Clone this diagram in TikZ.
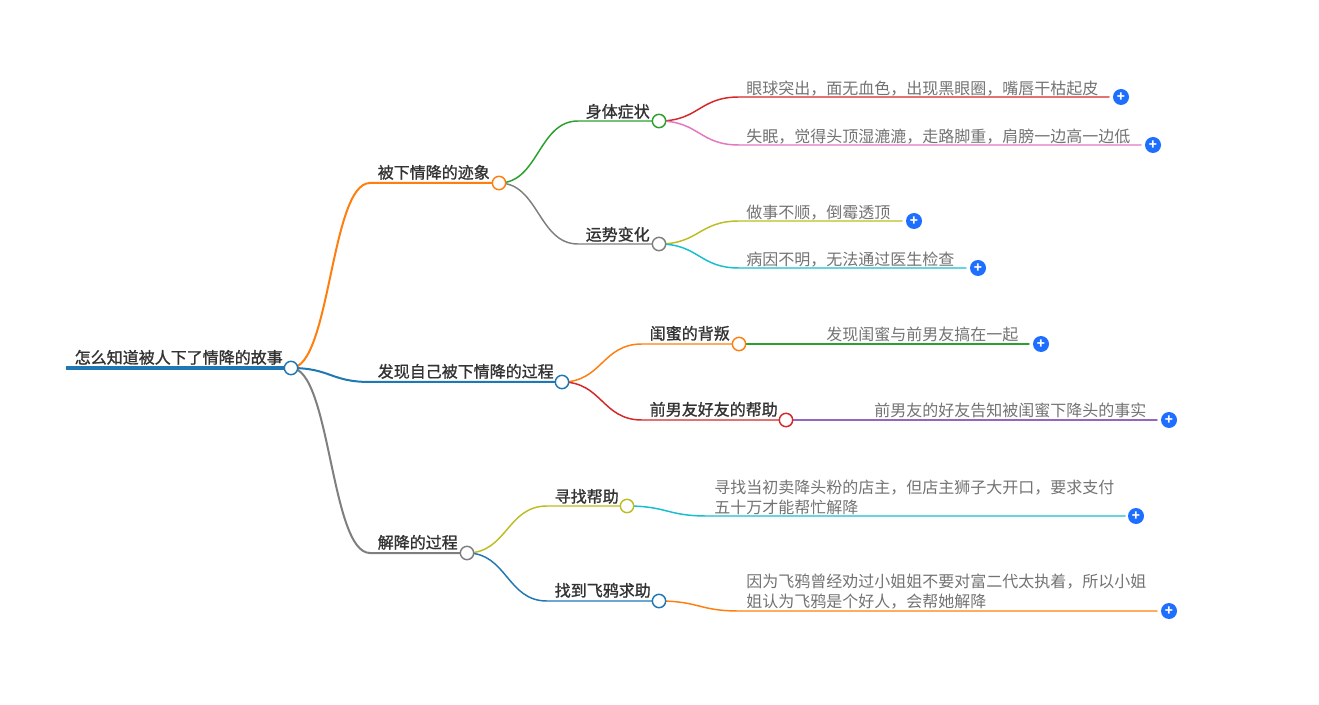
\documentclass[tikz,border=0pt]{standalone}
\usepackage{fontspec}
\setmainfont{Noto Sans CJK SC}
\newfontfamily\topicfont[FakeBold=1.2]{Noto Sans CJK SC}
\usetikzlibrary{calc}
\pgfdeclarelayer{back}
\pgfsetlayers{back,main}
\definecolor{cOrange}{HTML}{FF7F0E}
\definecolor{cBlue}{HTML}{1F77B4}
\definecolor{cGray}{HTML}{7F7F7F}
\definecolor{cGreen}{HTML}{2CA02C}
\definecolor{cRed}{HTML}{D62728}
\definecolor{cPink}{HTML}{E377C2}
\definecolor{cOlive}{HTML}{BCBD22}
\definecolor{cCyan}{HTML}{17BECF}
\definecolor{cPurple}{HTML}{9467BD}
\definecolor{cPlus}{HTML}{1E6EFF}
\tikzset{
  dot/.style={circle,draw=#1,fill=white,line width=1.1pt,minimum size=10pt,inner sep=0pt},
  topic/.style={anchor=west,inner sep=0pt,xshift=-0.4pt,yshift=-0.1pt,text=black!80,font=\fontsize{12}{15}\selectfont\topicfont,text height=10pt,text depth=2pt},
  leaf/.style={anchor=west,inner sep=0pt,xshift=-0.6pt,yshift=-0.4pt,text=black!55,align=left,font=\fontsize{12}{15}\selectfont},
  plusbtn/.style={circle,fill=cPlus,minimum size=12pt,inner sep=0pt,text=white,font=\fontsize{10}{10}\selectfont\bfseries},
  wire/.style={line width=#1,line cap=round},
  wire/.default=1.1pt
}
\newcommand{\conn}[5][1.1pt]{%
  \draw[wire=#1,draw=#4] let \p1=(#2),\p2=(#3),\n1={0.5*\x1+0.5*\x2} in
    (#2) .. controls (\n1,\y1) and (\n1,\y2) .. (#3) -- (#5);
}
\newcommand{\plusmark}{\raisebox{-1.1pt}{+}}
\begin{document}
\begin{tikzpicture}[x=0.75pt,y=-0.75pt]
\useasboundingbox (0,0) rectangle (1319,705);

% junction dots
\node[dot=cBlue] (root) at (291,368) {};
\node[dot=cOrange] (a) at (499,183) {};
\node[dot=cBlue] (b) at (562,382) {};
\node[dot=cGray] (c) at (467,553) {};
\node[dot=cGreen] (a1) at (659,121) {};
\node[dot=cGray] (a2) at (659,244) {};
\node[dot=cOrange] (b1) at (739,344) {};
\node[dot=cRed] (b2) at (786,420) {};
\node[dot=cOlive] (c1) at (627,506) {};
\node[dot=cBlue] (c2) at (659,601) {};

% plus buttons
\node[plusbtn] (pa) at (1121,97) {\plusmark};
\node[plusbtn] (pb) at (1153,145) {\plusmark};
\node[plusbtn] (pc) at (914,221) {\plusmark};
\node[plusbtn] (pd) at (978,268) {\plusmark};
\node[plusbtn] (pe) at (1041,344) {\plusmark};
\node[plusbtn] (pf) at (1169,420) {\plusmark};
\node[plusbtn] (pg) at (1136,516) {\plusmark};
\node[plusbtn] (ph) at (1169,611) {\plusmark};

% connector ends
\coordinate (rootstart) at (66,368);
\coordinate (ea) at (370,183);
\coordinate (eb) at (370,382);
\coordinate (ec) at (370,553);
\coordinate (ea1) at (578,121);
\coordinate (ea2) at (578,244);
\coordinate (eb1) at (642,344);
\coordinate (eb2) at (642,420);
\coordinate (ec1) at (547,506);
\coordinate (ec2) at (547,601);
\coordinate (l1) at (739,97);   \coordinate (l1e) at (1109,97);
\coordinate (l2) at (739,145);  \coordinate (l2e) at (1141,145);
\coordinate (l3) at (739,221);  \coordinate (l3e) at (902,221);
\coordinate (l4) at (739,268);  \coordinate (l4e) at (966,268);
\coordinate (l5) at (819,344);  \coordinate (l5e) at (1029,344);
\coordinate (l6) at (867,420);  \coordinate (l6e) at (1157,420);
\coordinate (l7) at (707,516);  \coordinate (l7e) at (1125,516);
\coordinate (l8) at (739,611);  \coordinate (l8e) at (1157,611);

\begin{pgfonlayer}{back}
\fill[white] (0,0) rectangle (1319,705);
\draw[line width=3pt,draw=cBlue] (rootstart) -- (root.center);
\conn[1.5pt]{root.center}{ea}{cOrange}{a.center}
\conn[1.5pt]{root.center}{eb}{cBlue}{b.center}
\conn[1.5pt]{root.center}{ec}{cGray}{c.center}
\conn{a.center}{ea1}{cGreen}{a1.center}
\conn{a.center}{ea2}{cGray}{a2.center}
\conn{b.center}{eb1}{cOrange}{b1.center}
\conn{b.center}{eb2}{cRed}{b2.center}
\conn{c.center}{ec1}{cOlive}{c1.center}
\conn{c.center}{ec2}{cBlue}{c2.center}
\conn{a1.center}{l1}{cRed}{l1e}
\conn{a1.center}{l2}{cPink}{l2e}
\conn{a2.center}{l3}{cOlive}{l3e}
\conn{a2.center}{l4}{cCyan}{l4e}
\conn{b1.center}{l5}{cGreen}{l5e}
\conn{b2.center}{l6}{cPurple}{l6e}
\conn{c1.center}{l7}{cCyan}{l7e}
\conn{c2.center}{l8}{cOrange}{l8e}
\end{pgfonlayer}

% topic labels
\node[topic] (t0) at (75,358) {怎么知道被人下了情降的故事};
\node[topic] (ta) at (378,173) {被下情降的迹象};
\node[topic] (tb) at (378,372) {发现自己被下情降的过程};
\node[topic] (tc) at (378,543) {解降的过程};
\node[topic] (ta1) at (586,112) {身体症状};
\node[topic] (ta2) at (586,235) {运势变化};
\node[topic] (tb1) at (650,334) {闺蜜的背叛};
\node[topic] (tb2) at (650,410) {前男友好友的帮助};
\node[topic] (tc1) at (555,497) {寻找帮助};
\node[topic] (tc2) at (555,591) {找到飞鸦求助};

% leaf labels
\node[leaf] (x1) at (747,88) {眼球突出，面无血色，出现黑眼圈，嘴唇干枯起皮};
\node[leaf] (x2) at (747,136) {失眠，觉得头顶湿漉漉，走路脚重，肩膀一边高一边低};
\node[leaf] (x3) at (747,212) {做事不顺，倒霉透顶};
\node[leaf] (x4) at (747,259) {病因不明，无法通过医生检查};
\node[leaf] (x5) at (827,334) {发现闺蜜与前男友搞在一起};
\node[leaf] (x6) at (875,410) {前男友的好友告知被闺蜜下降头的事实};
\node[leaf] (x7) at (715,497) {寻找当初卖降头粉的店主，但店主狮子大开口，要求支付\\五十万才能帮忙解降};
\node[leaf] (x8) at (747,591) {因为飞鸦曾经劝过小姐姐不要对富二代太执着，所以小姐\\姐认为飞鸦是个好人，会帮她解降};
\end{tikzpicture}
\end{document}
